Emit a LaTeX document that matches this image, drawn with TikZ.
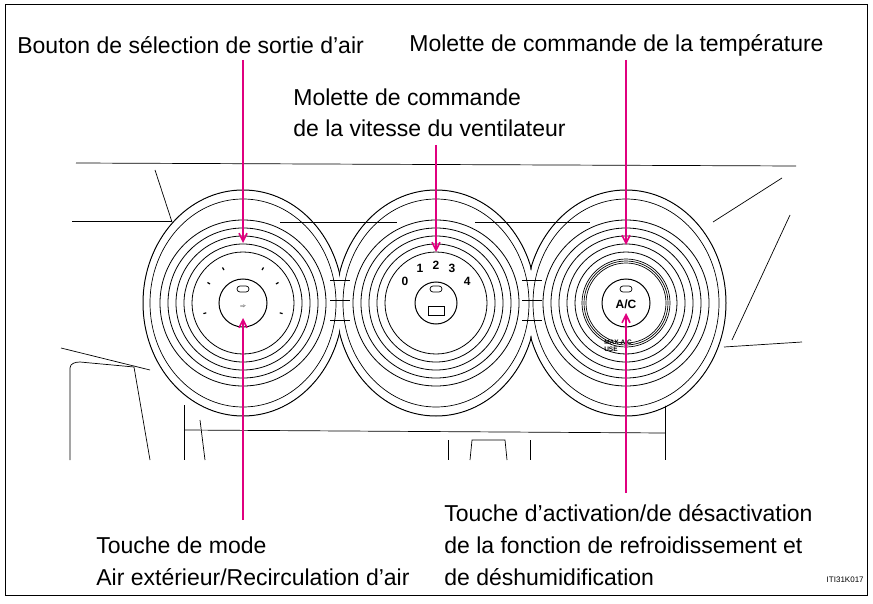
\documentclass[tikz,border=0pt]{standalone}
\usepackage{fontspec}
\setmainfont{Liberation Sans}
\usetikzlibrary{arrows.meta}
\tikzset{>={Straight Barb[length=8pt,width=8pt]}}
\definecolor{callout}{HTML}{E0007F}
\tikzset{
  lbl/.style={anchor=west,font=\fontsize{23}{24}\selectfont,inner sep=0pt},
  ptr/.style={->,callout,line width=1.6pt},
  ring/.style={line width=0.8pt},
}

\begin{document}
\begin{tikzpicture}[x=1pt,y=-1pt,line width=0.7pt]
  \useasboundingbox (0,0) rectangle (873,604);
  \draw[line width=0.8pt] (5,4) rectangle (867,595);

  \newcommand\Lx{243}
  \newcommand\Mx{436}
  \newcommand\Rx{626}
  \newcommand\Cy{303}

  % background panel
  \draw (76,163) -- (796,166);
  \draw (155,170) -- (172,222);
  \draw (72,221) -- (172,221);
  \draw (713,222) -- (782,178);
  \draw (790,215) -- (732,340);
  \draw (724,347) -- (802,342);
  \draw (61,348) -- (150,370);
  \draw (70,460) -- (70,368) to[out=90,in=180] (80,362) -- (134,367) -- (150,460);
  \draw (184,405) -- (184,460);
  \draw (200,420) -- (205,460);
  \draw (665,405) -- (665,460);
  \draw (184,430) -- (665,433);
  \draw (448,440) -- (448,460);
  \draw (530,440) -- (530,460);
  \draw (470,460) -- (472,440) -- (505,440) -- (507,460);

  % housing
  \foreach \c in {\Lx,\Mx,\Rx}
    \draw[line width=1pt] (\c,\Cy) ellipse (100pt and 113pt);
  \foreach \c in {\Lx,\Mx,\Rx}
    \fill[white] (\c,\Cy) ellipse (99pt and 112pt);
  \foreach \c in {\Lx,\Mx,\Rx}
    \draw (\c,\Cy) ellipse (93pt and 104pt);
  \foreach \c in {\Lx,\Mx,\Rx}
    \fill[white] (\c,\Cy) ellipse (92pt and 103pt);
  \draw (280,222) -- (397,222);
  \draw (475,222) -- (590,222);
  \draw (330,280) -- (350,280) (330,300) -- (350,300) (330,320) -- (350,320);
  \draw (522,280) -- (542,280) (522,300) -- (542,300) (522,320) -- (542,320);

  % dials
  \foreach \c in {\Lx,\Mx,\Rx}{
    \foreach \r in {83,75,67,59,51}
      \draw[ring] (\c,\Cy) circle (\r pt);
  }
  \draw[line width=1pt] (\Lx,\Cy) circle (24pt);
  \draw[line width=1pt] (\Mx,\Cy) circle (21pt);
  \draw[line width=1pt] (\Rx,\Cy) circle (24pt);
  \foreach \a in {0,2,4} \draw (\Rx,\Cy) circle (40pt+\a pt);
  \foreach \c in {\Lx,\Mx,\Rx}
    \draw[rounded corners=3pt] (\c-6,\Cy-17) rectangle (\c+6,\Cy-11);

  % left dial marks
  \foreach \a in {30,60,120,150,195,345}
    \draw[line width=1.2pt] (\Lx,\Cy) ++(-\a:38) -- ++(-\a:3);
  \node (carL) at (\Lx,\Cy+4) {\tiny$\Rightarrow$};

  % fan speeds
  \foreach \a/\t in {145/0,115/1,90/2,65/3,35/4}
    \node[font=\bfseries\large] (fan\t) at ([shift={(-\a:38)}]\Mx,\Cy) {\t};
  \draw (\Mx-8,\Cy+3) rectangle (\Mx+8,\Cy+12);

  % A/C
  \node[font=\bfseries\large] (ac) at (\Rx,\Cy+1) {A/C};
  \node[font=\bfseries\fontsize{6.5}{7}\selectfont,align=left,inner sep=0pt] (max) at (\Rx-8,\Cy+43) {MAX A/C\\USE};

  % labels
  \node[lbl] (tSel) at (17,45) {Bouton de sélection de sortie d’air};
  \node[lbl] (tTemp) at (409,45) {Molette de commande de la température};
  \node[lbl] (tFan1) at (293,97) {Molette de commande};
  \node[lbl] (tFan2) at (293,128) {de la vitesse du ventilateur};
  \node[lbl] (tMode1) at (96,545) {Touche de mode};
  \node[lbl] (tMode2) at (96,577) {Air extérieur/Recirculation d’air};
  \node[lbl] (tAc1) at (444,513) {Touche d’activation/de désactivation};
  \node[lbl] (tAc2) at (444,545) {de la fonction de refroidissement et};
  \node[lbl] (tAc3) at (444,577) {de déshumidification};
  \node[anchor=east,font=\footnotesize,inner sep=0pt] (code) at (864,580) {ITI31K017};

  % callouts
  \coordinate (pSel) at (\Lx,243);
  \coordinate (pMode) at (\Lx,318);
  \coordinate (pFan) at (\Mx,252);
  \coordinate (pTemp) at (\Rx,245);
  \coordinate (pAc) at (\Rx,313);
  \draw[ptr] (\Lx,60) -- (pSel);
  \draw[ptr] (\Lx,520) -- (pMode);
  \draw[ptr] (\Mx,145) -- (pFan);
  \draw[ptr] (\Rx,60) -- (pTemp);
  \draw[ptr] (\Rx,493) -- (pAc);
\end{tikzpicture}
\end{document}
